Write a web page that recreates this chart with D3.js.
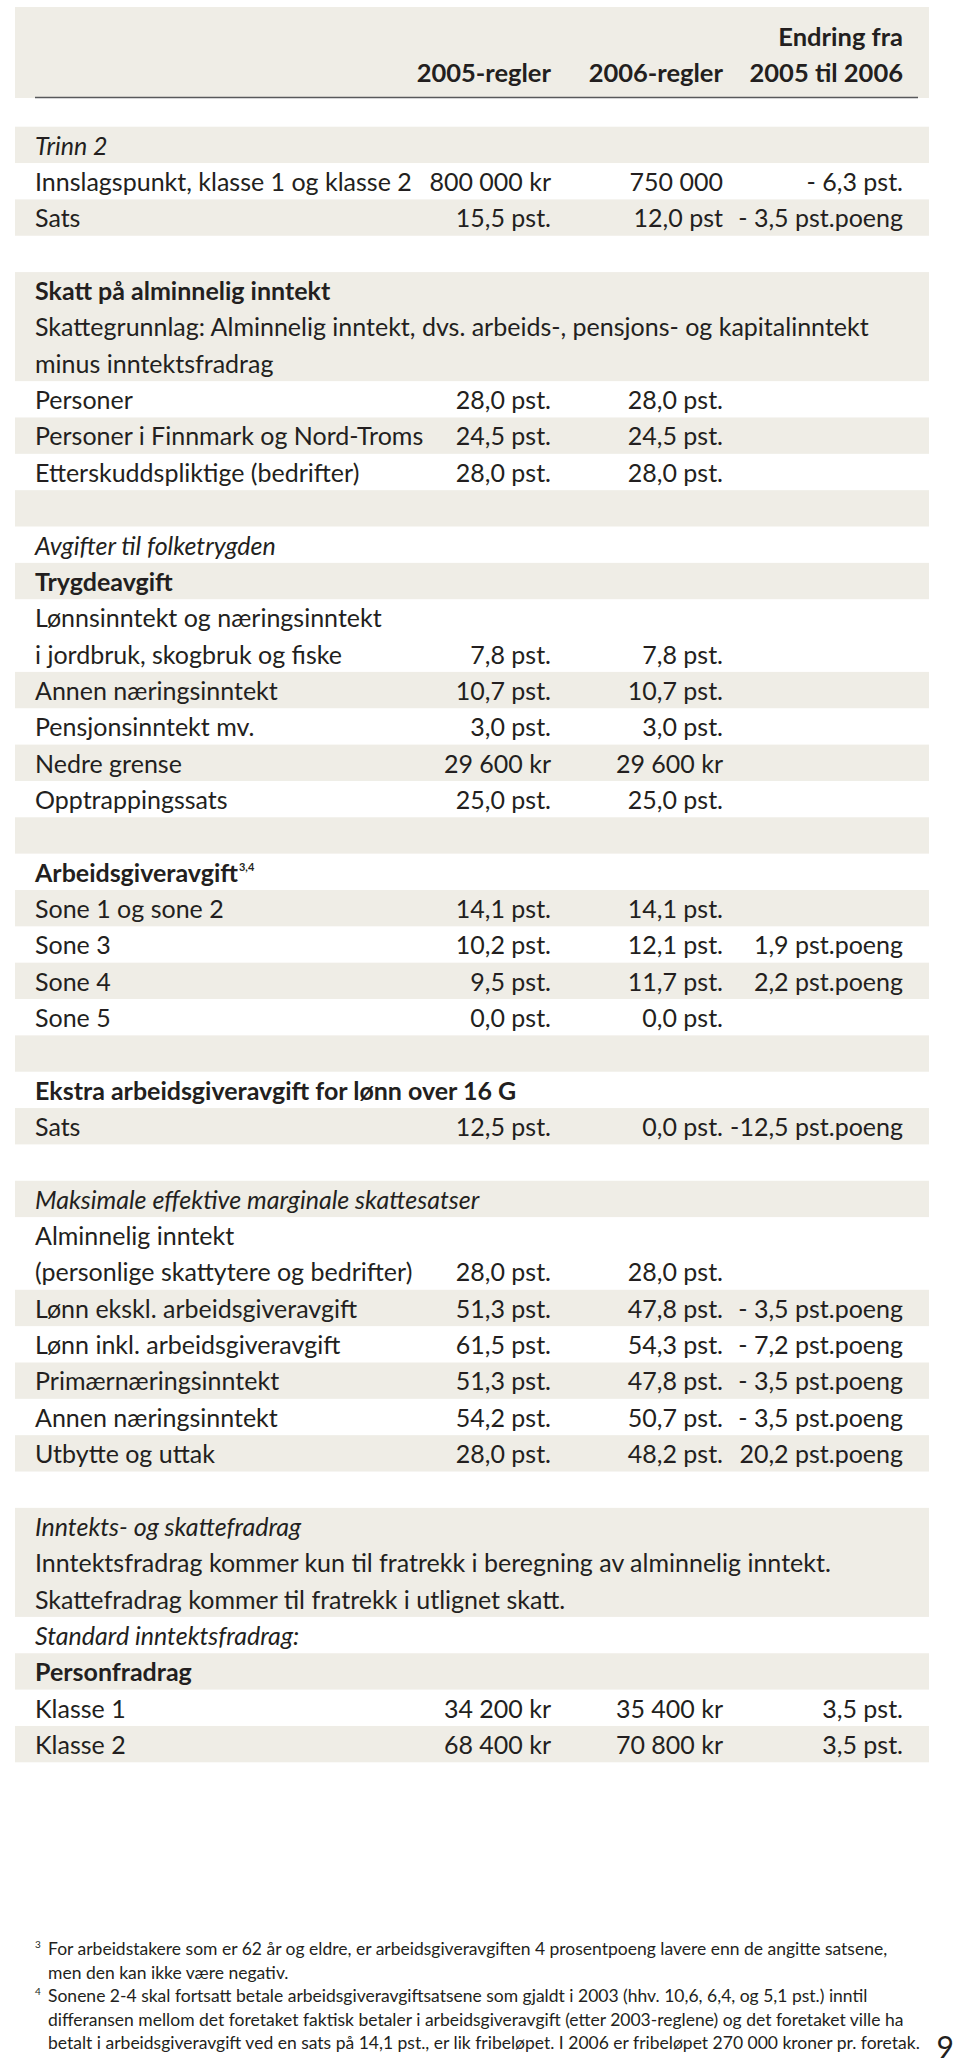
<!DOCTYPE html>
<html><head><meta charset="utf-8">
<script src="https://cdn.jsdelivr.net/npm/d3@7"></script>
<style>
html,body{margin:0;padding:0;background:#fff;}
svg{display:block;}
text{font-family:Lato,"Open Sans",sans-serif;fill:#231f20;}
</style></head>
<body>
<script>
// ---- data ----
const headers2005 = "2005-regler";
const headers2006 = "2006-regler";
const headersChange = ["Endring fra", "2005 til 2006"];

const labels = [
 "Trinn 2","Innslagspunkt, klasse 1 og klasse 2","Sats","",
 "Skatt på alminnelig inntekt","Skattegrunnlag: Alminnelig inntekt, dvs. arbeids-, pensjons- og kapitalinntekt","minus inntektsfradrag",
 "Personer","Personer i Finnmark og Nord-Troms","Etterskuddspliktige (bedrifter)","",
 "Avgifter til folketrygden","Trygdeavgift","Lønnsinntekt og næringsinntekt","i jordbruk, skogbruk og fiske",
 "Annen næringsinntekt","Pensjonsinntekt mv.","Nedre grense","Opptrappingssats","",
 "Arbeidsgiveravgift","Sone 1 og sone 2","Sone 3","Sone 4","Sone 5","",
 "Ekstra arbeidsgiveravgift for lønn over 16 G","Sats","",
 "Maksimale effektive marginale skattesatser","Alminnelig inntekt","(personlige skattytere og bedrifter)",
 "Lønn ekskl. arbeidsgiveravgift","Lønn inkl. arbeidsgiveravgift","Primærnæringsinntekt","Annen næringsinntekt","Utbytte og uttak","",
 "Inntekts- og skattefradrag","Inntektsfradrag kommer kun til fratrekk i beregning av alminnelig inntekt.",
 "Skattefradrag kommer til fratrekk i utlignet skatt.","Standard inntektsfradrag:","Personfradrag","Klasse 1","Klasse 2"
];
const values2005 = [
 "","800 000 kr","15,5 pst.","",
 "","","",
 "28,0 pst.","24,5 pst.","28,0 pst.","",
 "","","","7,8 pst.",
 "10,7 pst.","3,0 pst.","29 600 kr","25,0 pst.","",
 "","14,1 pst.","10,2 pst.","9,5 pst.","0,0 pst.","",
 "","12,5 pst.","",
 "","","28,0 pst.",
 "51,3 pst.","61,5 pst.","51,3 pst.","54,2 pst.","28,0 pst.","",
 "","","","","","34 200 kr","68 400 kr"
];
const values2006 = [
 "","750 000","12,0 pst","",
 "","","",
 "28,0 pst.","24,5 pst.","28,0 pst.","",
 "","","","7,8 pst.",
 "10,7 pst.","3,0 pst.","29 600 kr","25,0 pst.","",
 "","14,1 pst.","12,1 pst.","11,7 pst.","0,0 pst.","",
 "","0,0 pst.","",
 "","","28,0 pst.",
 "47,8 pst.","54,3 pst.","47,8 pst.","50,7 pst.","48,2 pst.","",
 "","","","","","35 400 kr","70 800 kr"
];
const changes = [
 "","- 6,3 pst.","- 3,5 pst.poeng","",
 "","","",
 "","","","",
 "","","","",
 "","","","","",
 "","","1,9 pst.poeng","2,2 pst.poeng","","",
 "","-12,5 pst.poeng","",
 "","","",
 "- 3,5 pst.poeng","- 7,2 pst.poeng","- 3,5 pst.poeng","- 3,5 pst.poeng","20,2 pst.poeng","",
 "","","","","","3,5 pst.","3,5 pst."
];
const shadedRows = [0,2,4,5,6,8,10,12,15,17,19,21,23,25,27,29,32,34,36,38,39,40,42,44];
const boldRows = [4,12,20,26,42];
const italicRows = [0,11,29,38,41];
const superscripts = [{row:20, text:"3,4"}];
const footnotes = [
 {mark:"3", lines:["For arbeidstakere som er 62 år og eldre, er arbeidsgiveravgiften 4 prosentpoeng lavere enn de angitte satsene,","men den kan ikke være negativ."]},
 {mark:"4", lines:["Sonene 2-4 skal fortsatt betale arbeidsgiveravgiftsatsene som gjaldt i 2003 (hhv. 10,6, 6,4, og 5,1 pst.) inntil","differansen mellom det foretaket faktisk betaler i arbeidsgiveravgift (etter 2003-reglene) og det foretaket ville ha","betalt i arbeidsgiveravgift ved en sats på 14,1 pst., er lik fribeløpet. I 2006 er fribeløpet 270 000 kroner pr. foretak."]}
];
const pageNumber = "9";

// ---- layout ----
const W = 960, H = 2068;
const svg = d3.select("body").append("svg").attr("width", W).attr("height", H);
const BAND = "#efede6";
const bandX0 = 15, bandX1 = 929, textX = 35;
const nRows = labels.length;
const y = d3.scaleLinear().domain([0, nRows]).range([126.7, 1762.3]);
const colX = d3.scaleOrdinal().domain(["c2005","c2006","chg"]).range([551, 723, 903]);
const FS = 25;

// header band
svg.append("rect").attr("x", bandX0).attr("y", 7).attr("width", bandX1 - bandX0).attr("height", 91).attr("fill", BAND);
svg.append("line").attr("x1", textX).attr("x2", 918).attr("y1", 97.5).attr("y2", 97.5)
  .attr("stroke", "#58595b").attr("stroke-width", 1.6);
const hdr = svg.append("g").attr("font-weight", "bold").attr("font-size", FS + 0.5).attr("text-anchor", "end");
hdr.append("text").attr("x", colX("chg")).attr("y", 46).text(headersChange[0]);
hdr.append("text").attr("x", colX("chg")).attr("y", 82).text(headersChange[1]);
hdr.append("text").attr("x", colX("c2005")).attr("y", 82).text(headers2005);
hdr.append("text").attr("x", colX("c2006")).attr("y", 82).text(headers2006);

// shaded bands (merge contiguous runs)
const shadeSet = new Set(shadedRows);
const runs = [];
for (let i = 0; i < nRows; i++) {
  if (shadeSet.has(i)) {
    if (runs.length && runs[runs.length - 1][1] === i) runs[runs.length - 1][1] = i + 1;
    else runs.push([i, i + 1]);
  }
}
svg.append("g").selectAll("rect").data(runs).join("rect")
  .attr("x", bandX0).attr("width", bandX1 - bandX0)
  .attr("y", d => y(d[0])).attr("height", d => y(d[1]) - y(d[0]))
  .attr("fill", BAND);

// rows
const rows = d3.range(nRows).map(i => ({i, label: labels[i], v5: values2005[i], v6: values2006[i], ch: changes[i]}));
const g = svg.append("g").attr("font-size", FS);
const base = i => y(i) + 28;
g.selectAll("text.lab").data(rows.filter(d => d.label)).join("text").attr("class", "lab")
  .attr("x", textX).attr("y", d => base(d.i))
  .attr("font-weight", d => boldRows.includes(d.i) ? "bold" : null)
  .attr("font-style", d => italicRows.includes(d.i) ? "italic" : null)
  .text(d => d.label);
g.selectAll("text.v5").data(rows.filter(d => d.v5)).join("text").attr("class", "v5")
  .attr("x", colX("c2005")).attr("y", d => base(d.i)).attr("text-anchor", "end").text(d => d.v5);
g.selectAll("text.v6").data(rows.filter(d => d.v6)).join("text").attr("class", "v6")
  .attr("x", colX("c2006")).attr("y", d => base(d.i)).attr("text-anchor", "end").text(d => d.v6);
g.selectAll("text.ch").data(rows.filter(d => d.ch)).join("text").attr("class", "ch")
  .attr("x", colX("chg")).attr("y", d => base(d.i)).attr("text-anchor", "end").text(d => d.ch);

// superscripts
superscripts.forEach(s => {
  const lab = g.selectAll("text.lab").filter(d => d.i === s.row);
  const w = lab.node().getComputedTextLength();
  g.append("text").attr("x", textX + w + 1).attr("y", base(s.row) - 11)
    .attr("font-size", 11).attr("font-weight", "bold").text(s.text);
});

// footnotes
const fy = d3.scaleLinear().domain([0, 4]).range([1955, 2049]);
const fg = svg.append("g").attr("font-size", 17.5);
let li = 0;
footnotes.forEach(f => {
  fg.append("text").attr("x", 35).attr("y", fy(li) - 7).attr("font-size", 10).text(f.mark);
  f.lines.forEach(l => { fg.append("text").attr("x", 48).attr("y", fy(li)).text(l); li++; });
});
svg.append("text").attr("x", 954).attr("y", 2058).attr("text-anchor", "end").attr("font-size", 30).text(pageNumber);
</script>
</body></html>
